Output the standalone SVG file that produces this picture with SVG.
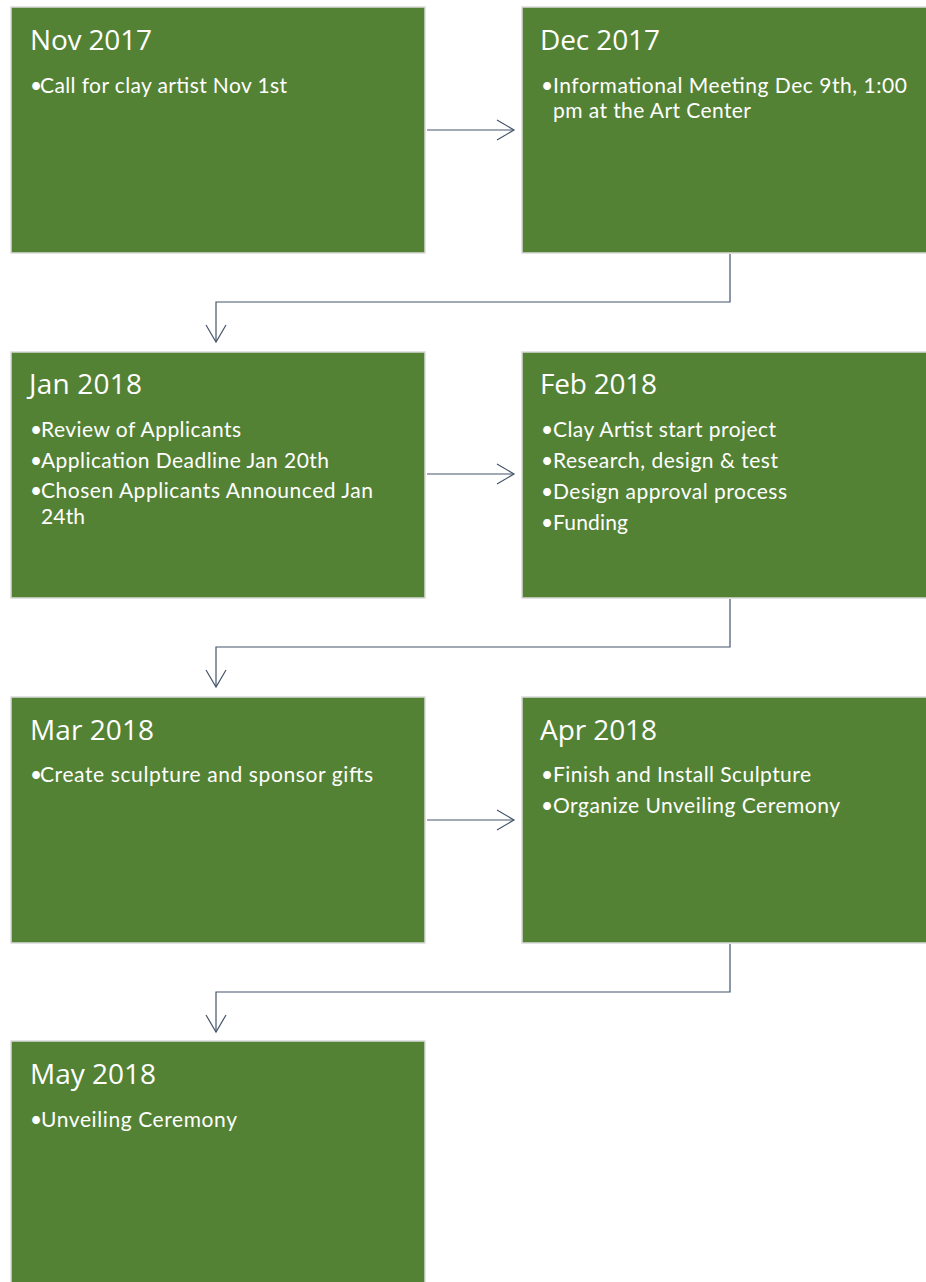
<svg xmlns="http://www.w3.org/2000/svg" width="926" height="1282" viewBox="0 0 926 1282">
<style>
.box{fill:#548235;stroke:#dadada;stroke-width:1.5}
.t{font-family:Lato,"Open Sans","Liberation Sans",sans-serif;fill:#ffffff}
.h{font-family:"Open Sans",Lato,"Liberation Sans",sans-serif;font-size:28px}
.b{font-size:21px}
.c{fill:none;stroke:#44546A;stroke-width:1.2}
</style>
<defs>
<marker id="arr" markerUnits="userSpaceOnUse" viewBox="-19 -12 21 24" markerWidth="21" markerHeight="24" refX="0" refY="0" orient="auto">
<path d="M-17,-10 L0,0 L-17,10" fill="none" stroke="#44546A" stroke-width="1.2"/>
</marker>
</defs>
<rect x="0" y="0" width="926" height="1282" fill="#ffffff"/>
<g id="connectors">
<path class="c" d="M427,130 H514" marker-end="url(#arr)"/>
<path class="c" d="M427,474 H514" marker-end="url(#arr)"/>
<path class="c" d="M427,820 H514" marker-end="url(#arr)"/>
<path class="c" d="M730,254 V302 H216 V342" marker-end="url(#arr)"/>
<path class="c" d="M730,599 V647 H216 V687" marker-end="url(#arr)"/>
<path class="c" d="M730,944 V992 H216 V1032" marker-end="url(#arr)"/>
</g>
<g id="nov2017">
<rect class="box" x="11" y="7" width="414" height="246"/>
<text class="t h" x="30" y="50" textLength="122">Nov 2017</text>
<text class="t b" x="30" y="93">•</text>
<text class="t b" x="40" y="93" textLength="247">Call for clay artist Nov 1st</text>
</g>
<g id="dec2017">
<rect class="box" x="522" y="7" width="410" height="246"/>
<text class="t h" x="540" y="50" textLength="120">Dec 2017</text>
<text class="t b" x="541" y="93">•</text>
<text class="t b" x="553" y="93" textLength="354">Informational Meeting Dec 9th, 1:00</text>
<text class="t b" x="553" y="118" textLength="198">pm at the Art Center</text>
</g>
<g id="jan2018">
<rect class="box" x="11" y="352" width="414" height="246"/>
<text class="t h" x="29" y="394" textLength="113">Jan 2018</text>
<text class="t b" x="30" y="437">•</text>
<text class="t b" x="41" y="437" textLength="200">Review of Applicants</text>
<text class="t b" x="30" y="468">•</text>
<text class="t b" x="41" y="468" textLength="288">Application Deadline Jan 20th</text>
<text class="t b" x="30" y="498">•</text>
<text class="t b" x="41" y="498" textLength="332">Chosen Applicants Announced Jan</text>
<text class="t b" x="41" y="524" textLength="44">24th</text>
</g>
<g id="feb2018">
<rect class="box" x="522" y="352" width="410" height="246"/>
<text class="t h" x="540" y="394" textLength="117">Feb 2018</text>
<text class="t b" x="541" y="437">•</text>
<text class="t b" x="553" y="437" textLength="223">Clay Artist start project</text>
<text class="t b" x="541" y="468">•</text>
<text class="t b" x="553" y="468" textLength="225">Research, design &amp; test</text>
<text class="t b" x="541" y="499">•</text>
<text class="t b" x="553" y="499" textLength="234">Design approval process</text>
<text class="t b" x="541" y="530">•</text>
<text class="t b" x="553" y="530" textLength="75">Funding</text>
</g>
<g id="mar2018">
<rect class="box" x="11" y="697" width="414" height="246"/>
<text class="t h" x="30" y="740" textLength="124">Mar 2018</text>
<text class="t b" x="30" y="782">•</text>
<text class="t b" x="40" y="782" textLength="333">Create sculpture and sponsor gifts</text>
</g>
<g id="apr2018">
<rect class="box" x="522" y="697" width="410" height="246"/>
<text class="t h" x="540" y="740" textLength="117">Apr 2018</text>
<text class="t b" x="541" y="782">•</text>
<text class="t b" x="553" y="782" textLength="258">Finish and Install Sculpture</text>
<text class="t b" x="541" y="813">•</text>
<text class="t b" x="553" y="813" textLength="287">Organize Unveiling Ceremony</text>
</g>
<g id="may2018">
<rect class="box" x="11" y="1041" width="414" height="250"/>
<text class="t h" x="30" y="1084" textLength="126">May 2018</text>
<text class="t b" x="30" y="1127">•</text>
<text class="t b" x="41" y="1127" textLength="196">Unveiling Ceremony</text>
</g>
</svg>
